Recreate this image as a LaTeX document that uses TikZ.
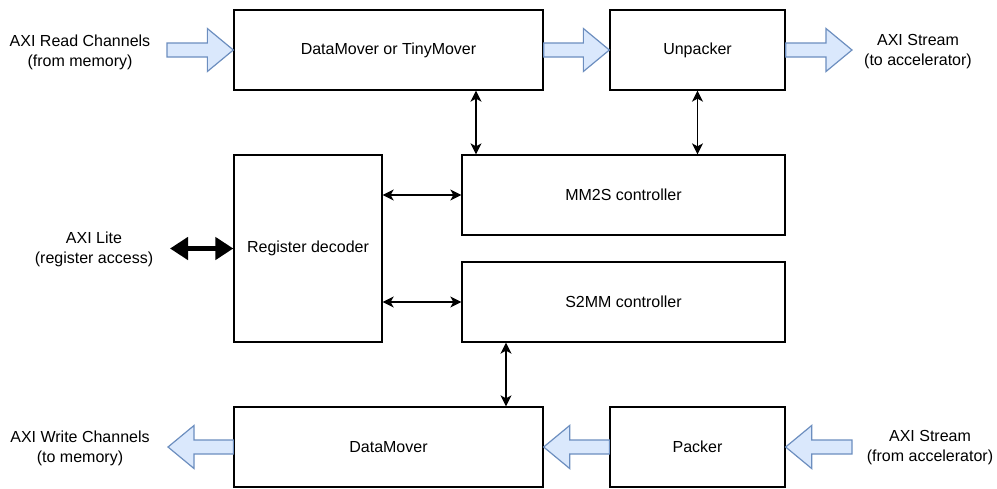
\documentclass[tikz,border=0pt]{standalone}
\usepackage{fontspec}
\setmainfont{Liberation Sans}
\usetikzlibrary{arrows.meta,calc}
\definecolor{blkfill}{HTML}{DAE8FC}
\definecolor{blkdraw}{HTML}{6C8EBF}
\newcommand{\fatarrow}[2]{%
  \draw[fat] let \p1=(#1), \p2=(#2), \n1={sign(\x2-\x1)} in
  (\x1,\y1+7pt) -- (\x2-\n1*26pt,\y1+7pt) -- (\x2-\n1*26pt,\y1+21.5pt) -- (\x2,\y1)
  -- (\x2-\n1*26pt,\y1-21.5pt) -- (\x2-\n1*26pt,\y1-7pt) -- (\x1,\y1-7pt) -- cycle;}
\begin{document}
\begin{tikzpicture}[x=1pt,y=-1pt,
  txt/.style={font=\fontsize{16}{20}\selectfont, align=center},
  box/.style={draw, line width=1.3pt, inner sep=0pt, txt},
  lbl/.style={txt, inner sep=0pt},
  fat/.style={draw=blkdraw, fill=blkfill, line width=1.2pt, line join=miter},
  dbl/.style={line width=1.3pt, {Stealth[length=11pt,width=11pt,inset=3pt]}-{Stealth[length=11pt,width=11pt,inset=3pt]}},
  thick2/.style={line width=5pt, {Triangle[length=18pt,width=22pt]}-{Triangle[length=18pt,width=22pt]}}]
\useasboundingbox (0,0) rectangle (997,488);
% boxes
\node[box, minimum width=309pt, minimum height=80pt] (dm1) at (388.5,50) {DataMover or TinyMover};
\node[box, minimum width=175pt, minimum height=80pt] (unp) at (697.5,50) {Unpacker};
\node[box, minimum width=148pt, minimum height=187pt] (reg) at (308,248.5) {Register decoder};
\node[box, minimum width=323pt, minimum height=80pt] (mm2s) at (623.5,195) {MM2S controller};
\node[box, minimum width=323pt, minimum height=80pt] (s2mm) at (623.5,302) {S2MM controller};
\node[box, minimum width=309pt, minimum height=80pt] (dm2) at (388.5,447) {DataMover};
\node[box, minimum width=175pt, minimum height=80pt] (pack) at (697.5,447) {Packer};
% labels
\node[lbl] (l1) at (80,52) {AXI Read Channels\\(from memory)};
\node[lbl] (l2) at (918,52) {AXI Stream\\(to accelerator)};
\node[lbl] (l3) at (94,249) {AXI Lite\\(register access)};
\node[lbl] (l4) at (80,448) {AXI Write Channels\\(to memory)};
\node[lbl] (l5) at (930,448) {AXI Stream\\(from accelerator)};
% free ends
\coordinate (in1) at (167,50);
\coordinate (out1) at (852,50);
\coordinate (out2) at (168,447);
\coordinate (in2) at (852,447);
\coordinate (lite) at (170,248.5);
\coordinate (xa) at (476,0);
\coordinate (xb) at (506,0);
% block arrows
\fatarrow{in1}{dm1.west}
\fatarrow{dm1.east}{unp.west}
\fatarrow{unp.east}{out1}
\fatarrow{dm2.west}{out2}
\fatarrow{pack.west}{dm2.east}
\fatarrow{in2}{pack.east}
% thin arrows
\draw[dbl] (dm1.south -| xa) -- (mm2s.north -| xa);
\draw[dbl] (unp.south) -- (unp.south |- mm2s.north);
\draw[dbl] (reg.east |- mm2s.west) -- (mm2s.west);
\draw[dbl] (reg.east |- s2mm.west) -- (s2mm.west);
\draw[dbl] (s2mm.south -| xb) -- (dm2.north -| xb);
% AXI Lite
\draw[thick2] (lite) -- (reg.west);
\end{tikzpicture}
\end{document}
